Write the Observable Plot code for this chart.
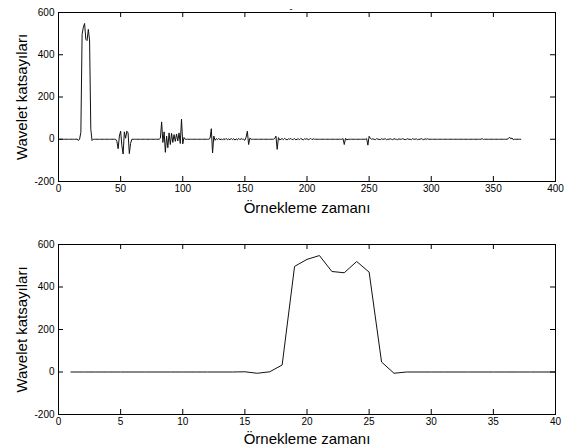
<!DOCTYPE html>
<html>
<head>
<meta charset="utf-8">
<script src="https://cdn.jsdelivr.net/npm/d3@7"></script>
<script src="https://cdn.jsdelivr.net/npm/@observablehq/plot@0.6"></script>
<style>
  html, body { margin: 0; padding: 0; background: #fff; }
  #chart { width: 566px; height: 448px; overflow: hidden; }
  #chart svg { display: block; }
</style>
</head>
<body>
<div id="chart"></div>
<script>
// ---- data ----
const sampleCount = 372;
const xLabel = "Örnekleme zamanı";
const yLabel = "Wavelet katsayıları";
const topXTicks = [0, 50, 100, 150, 200, 250, 300, 350, 400];
const bottomXTicks = [0, 5, 10, 15, 20, 25, 30, 35, 40];
const yTicks = [-200, 0, 200, 400, 600];

// bursts of non-zero wavelet coefficients: start sample + values
const peakStart = 15;
const peakValues = [1, -6, 1, 33, 497, 530, 548, 473, 467, 520, 470, 47, -6];
const burstAStart = 47;
const burstAValues = [-10, -45, 15, 38, -30, -70, 35, 5, 38, 30, -68, -20];
const burstBStart = 82;
const burstBValues = [5, 82, -15, 35, -62, 15, -40, 30, -25, 28, -15, 22, -10, 25, -8, 30, -20, 95, -22, 8];
const burstCStart = 122;
const burstCValues = [5, 50, -65, 15, -5];
const ripple1Start = 127;
const ripple1Values = [3, -2, 4, -3, 2, -4, 3, -2, 4, -3, 2, -3, 4, -2, 3, -4, 2, -3, 4, -2, 3];
const burstDStart = 150;
const burstDValues = [-5, 10, 38, -25, 5];
const burstEStart = 174;
const burstEValues = [3, 15, -48, 8, -3];
const ripple2Start = 180;
const ripple2Values = [3, -2, 4, 0, -3, 2, 0, 4, -2, 0, 3, -3, 0, 2, -2, 4, 0, -3, 2, 0, 3, -2, 0, 4, -2, 2];
const burstFStart = 229;
const burstFValues = [3, -25, 5, -3];
const burstGStart = 248;
const burstGValues = [3, -28, 14, 4];
const ripple3Start = 253;
const ripple3Values = [2, 0, -2, 3, 0, 0, -2, 2, 0, 0, 3, -2, 0, 0, 2, 0, -2, 3, 0, 0, -2, 2, 0, 0, 3, 0, -2, 0, 2, 0, 0, -2, 3, 0, 0, 2, -2, 0, 0, 3, 0, -2, 2, 0, 2];
const bumpStart = 341;
const bumpValues = [3, -1];
const burstHStart = 362;
const burstHValues = [3, 10, 2, 6, -2];

const bursts = [
  [peakStart, peakValues], [burstAStart, burstAValues], [burstBStart, burstBValues],
  [burstCStart, burstCValues], [ripple1Start, ripple1Values], [burstDStart, burstDValues],
  [burstEStart, burstEValues], [ripple2Start, ripple2Values], [burstFStart, burstFValues],
  [burstGStart, burstGValues], [ripple3Start, ripple3Values], [bumpStart, bumpValues],
  [burstHStart, burstHValues]
];

const series = Array.from({length: sampleCount}, (_, k) => ({i: k + 1, v: 0}));
for (const [start, vals] of bursts) {
  vals.forEach((v, j) => { series[start - 1 + j].v = v; });
}
const zoomSeries = series.filter(d => d.i <= 40);

// ---- drawing ----
const W = 566;
const FONT = "Arial, 'Liberation Sans', Helvetica, sans-serif";

function panel({data, xDomain, xTicks, height, mt, mb, labelDy, extra = []}) {
  const ml = 58, mr = 11;
  const fw = W - ml - mr;
  const fh = height - mt - mb;
  return Plot.plot({
    width: W,
    height,
    marginLeft: ml,
    marginRight: mr,
    marginTop: mt,
    marginBottom: mb,
    style: {fontFamily: FONT, fontSize: "10px", background: "#fff", color: "#000", overflow: "visible"},
    x: {domain: xDomain, ticks: xTicks, label: null},
    y: {domain: [-200, 600], ticks: yTicks, label: null},
    marks: [
      Plot.axisX({ticks: xTicks, tickSize: 0, tickPadding: 3, tickFormat: d => String(d), label: null, fontSize: 10, fill: "#000"}),
      Plot.axisY({ticks: yTicks, tickSize: 0, tickPadding: 4, tickFormat: d => String(d), label: null, fontSize: 10, fill: "#000"}),
      Plot.tickX(xTicks, {x: d => d, insetTop: fh - 5, stroke: "#000"}),
      Plot.tickX(xTicks, {x: d => d, insetBottom: fh - 5, stroke: "#000"}),
      Plot.tickY(yTicks, {y: d => d, insetRight: fw - 5, stroke: "#000"}),
      Plot.tickY(yTicks, {y: d => d, insetLeft: fw - 5, stroke: "#000"}),
      Plot.line(data, {x: "i", y: "v", stroke: "#111", strokeWidth: 1}),
      Plot.frame({stroke: "#000"}),
      Plot.text([xLabel], {frameAnchor: "bottom", textAnchor: "middle", lineAnchor: "bottom", dy: labelDy, fontSize: 15, fill: "#000", fontFamily: FONT}),
      Plot.text([yLabel], {frameAnchor: "left", textAnchor: "middle", lineAnchor: "middle", dx: -36, rotate: -90, fontSize: 15, fill: "#000", fontFamily: FONT}),
      ...extra
    ]
  });
}

const chart = document.getElementById("chart");
chart.append(panel({
  data: series, xDomain: [0, 400], xTicks: topXTicks,
  height: 224, mt: 12, mb: 43, labelDy: 31,
  extra: [Plot.text(["-"], {frameAnchor: "top", dx: -16, dy: -7, fontSize: 9, fill: "#000"})]
}));
chart.append(panel({
  data: zoomSeries, xDomain: [0, 40], xTicks: bottomXTicks,
  height: 224, mt: 20, mb: 34, labelDy: 29
}));
</script>
</body>
</html>
